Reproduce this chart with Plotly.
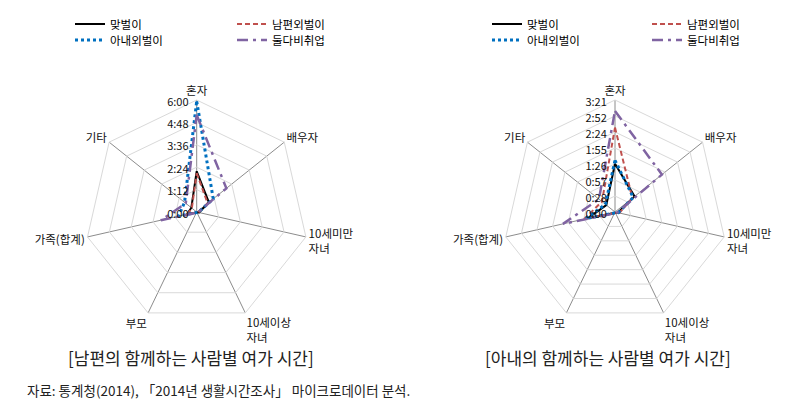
import plotly.graph_objects as go

categories = ["혼자", "배우자", "10세미만<br>자녀", "10세이상<br>자녀", "부모", "가족(합계)", "기타"]
series_names = ["맞벌이", "남편외벌이", "아내외벌이", "둘다비취업"]

# minutes
husband_dual = [131, 50, 8, 2, 2, 32, 22]
husband_male = [125, 45, 6, 2, 2, 30, 20]
husband_female = [356, 68, 5, 2, 2, 60, 50]
husband_none = [312, 122, 4, 2, 3, 118, 45]

wife_dual = [87, 45, 5, 2, 2, 50, 20]
wife_male = [152, 40, 8, 2, 2, 57, 30]
wife_female = [93, 42, 6, 2, 2, 54, 22]
wife_none = [182, 108, 4, 2, 3, 96, 37]

left_tickvals = [0, 72, 144, 216, 288, 360]
left_ticktext = ["0:00", "1:12", "2:24", "3:36", "4:48", "6:00"]
right_tickvals = [0, 28.8, 57.6, 86.4, 115.2, 144, 172.8, 201.6]
right_ticktext = ["0:00", "0:28", "0:57", "1:26", "1:55", "2:24", "2:52", "3:21"]

styles = [
    dict(color="#000000", width=2, dash="solid"),
    dict(color="#C0504D", width=2, dash="5px,3px"),
    dict(color="#0070C0", width=3, dash="dot"),
    dict(color="#8064A2", width=2.5, dash="11px,5px,3px,5px"),
]

FONT = "Noto Sans CJK KR"
W, H = 792, 415

fig = go.Figure()

def closed(v):
    return list(v) + [v[0]]

left_data = [husband_dual, husband_male, husband_female, husband_none]
right_data = [wife_dual, wife_male, wife_female, wife_none]
left_leg = ["legend", "legend", "legend2", "legend2"]
right_leg = ["legend3", "legend3", "legend4", "legend4"]

for i, (name, vals) in enumerate(zip(series_names, left_data)):
    fig.add_trace(go.Scatterpolar(r=closed(vals), theta=closed(categories), mode="lines",
                                  name=name, line=styles[i], subplot="polar",
                                  legend=left_leg[i]))
for i, (name, vals) in enumerate(zip(series_names, right_data)):
    fig.add_trace(go.Scatterpolar(r=closed(vals), theta=closed(categories), mode="lines",
                                  name=name, line=styles[i], subplot="polar2",
                                  legend=right_leg[i]))

def polar_cfg(cx, cy, rad, rng, tv, tt):
    return dict(
        domain=dict(x=[(cx - rad) / W, (cx + rad) / W],
                    y=[(H - cy - rad) / H, (H - cy + rad) / H]),
        gridshape="linear",
        bgcolor="white",
        angularaxis=dict(type="category", rotation=90, direction="clockwise",
                         gridcolor="#8C8C8C", gridwidth=1, linecolor="#D9D9D9",
                         showline=True, ticks="",
                         tickfont=dict(family=FONT, size=11.5, color="#111")),
        radialaxis=dict(range=rng, tickvals=tv, ticktext=tt, angle=90,
                        side="counterclockwise", showline=False, ticks="",
                        gridcolor="#D9D9D9", gridwidth=1,
                        tickfont=dict(family=FONT, size=11, color="#111")),
    )

def legend_cfg(x, y, ew):
    return dict(orientation="h", x=x / W, y=1 - y / H, xanchor="left", yanchor="middle",
                entrywidth=ew, entrywidthmode="pixels", itemwidth=30,
                font=dict(family=FONT, size=11.5, color="#000"),
                bgcolor="rgba(0,0,0,0)", borderwidth=0, tracegroupgap=0,
                traceorder="normal")

fig.update_layout(
    width=W, height=H,
    margin=dict(l=0, r=0, t=0, b=0, autoexpand=False),
    paper_bgcolor="white",
    polar=polar_cfg(196.7, 212, 112, [0, 360], left_tickvals, left_ticktext),
    polar2=polar_cfg(615, 212, 112, [0, 201.6], right_tickvals, right_ticktext),
    legend=legend_cfg(70, 24, 117),
    legend2=legend_cfg(70, 40, 117),
    legend3=legend_cfg(487, 24, 115),
    legend4=legend_cfg(487, 40, 115),
    annotations=[
        dict(text="[남편의 함께하는 사람별 여가 시간]", x=191 / W, y=1 - 357 / H,
             xref="paper", yref="paper", showarrow=False, xanchor="center", yanchor="middle",
             font=dict(family=FONT, size=17, color="#222")),
        dict(text="[아내의 함께하는 사람별 여가 시간]", x=608 / W, y=1 - 357 / H,
             xref="paper", yref="paper", showarrow=False, xanchor="center", yanchor="middle",
             font=dict(family=FONT, size=17, color="#222")),
        dict(text="자료: 통계청(2014), 「2014년 생활시간조사」 마이크로데이터 분석.",
             x=25 / W, y=1 - 390 / H, xref="paper", yref="paper", showarrow=False,
             xanchor="left", yanchor="middle",
             font=dict(family=FONT, size=13.5, color="#222")),
    ],
)

fig.write_html("out.html")
